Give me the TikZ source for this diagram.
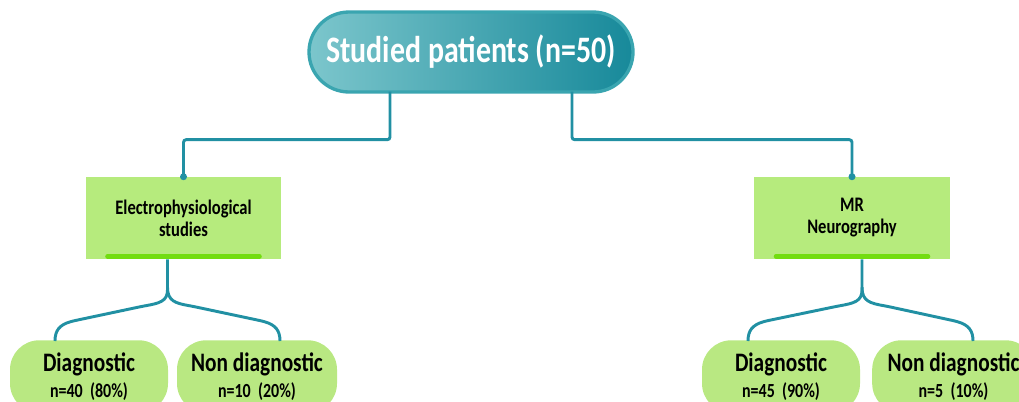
\documentclass[tikz,border=0pt]{standalone}
\usepackage{fontspec}
\setmainfont{Carlito}[FakeStretch=0.8]
\usetikzlibrary{calc}
\definecolor{teal1}{HTML}{2190A3}
\definecolor{tealL}{HTML}{7CC6CC}
\definecolor{tealD}{HTML}{17899A}
\definecolor{tealR}{HTML}{3AA5B0}
\definecolor{gbox}{HTML}{B6EB7D}
\definecolor{gbar}{HTML}{72DD10}
\definecolor{gpill}{HTML}{B9E882}
\tikzset{
  conn/.style={draw=teal1, line width=2.2pt, rounded corners=2pt},
  dotend/.style={fill=teal1},
  greenbox/.style={fill=gbox, minimum width=146.5pt, minimum height=61.5pt, inner sep=0pt, font=\bfseries\fontsize{15.5}{16.5}\selectfont, align=center},
  pill/.style={fill=gpill, rounded corners=22pt, anchor=north, align=center, inner ysep=9pt, font=\bfseries\fontsize{20}{20}\selectfont},
  bar/.style={draw=gbar, line width=3.5pt, line cap=round}
}
\newcommand{\smt}[1]{{\fontsize{15}{16}\selectfont #1}}
\begin{document}
\begin{tikzpicture}[x=0.75pt,y=-0.75pt]
\useasboundingbox (0,0) rectangle (1019,401);
\clip (0,0) rectangle (1019,401);
% title
\node[draw=tealR, line width=2.5pt, left color=tealL, right color=tealD, rounded corners=30pt,
      minimum width=243pt, minimum height=60pt, text=white,
      font=\bfseries\fontsize{28}{30}\selectfont] (title) at (471,52) {Studied patients (n=50)};
% boxes
\node[greenbox] (ebox) at (183.5,218) {Electrophysiological\\studies};
\node[greenbox] (mbox) at (852,218) {MR\\Neurography};
\draw[bar] ($(ebox.south west)+(22,-3)$) -- ($(ebox.south east)+(-22,-3)$);
\draw[bar] ($(mbox.south west)+(22,-3)$) -- ($(mbox.south east)+(-22,-3)$);
% pills
\node[pill, minimum width=118.5pt] (dl) at (89,340) {Diagnostic\\\smt{n=40\ \ (80\%)}};
\node[pill, minimum width=120pt] (ndl) at (257,340) {Non diagnostic\\\smt{n=10\ \ (20\%)}};
\node[pill, minimum width=118.5pt] (dr) at (781,340) {Diagnostic\\\smt{n=45\ \ (90\%)}};
\node[pill, minimum width=122pt] (ndr) at (953.5,340) {Non diagnostic\\\smt{n=5\ \ (10\%)}};
% top connectors
\draw[conn] ($(title.south)+(-81,-2)$) -- ++(0,48) -| (ebox.north);
\draw[conn] ($(title.south)+(101,-2)$) -- ++(0,48) -| (mbox.north);
\fill[dotend] (ebox.north) circle (3.5);
\fill[dotend] (mbox.north) circle (3.5);
% forks
\coordinate (s1) at ($(ebox.south)+(-16,0)$);
\coordinate (e1) at ($(dl.north)+(-34,1)$);
\coordinate (e2) at ($(ndl.north)+(23,1)$);
\draw[conn] (s1) -- ($(s1)+(0,28)$) .. controls ($(s1)+(0,42)$) and ($(s1)+(-8,44)$) .. ($(s1)+(-25,47)$) -- ($(e1)+(18,-20)$) .. controls ($(e1)+(4,-16)$) and ($(e1)+(0,-10)$) .. (e1);
\draw[conn] ($(s1)+(0,28)$) .. controls ($(s1)+(0,42)$) and ($(s1)+(8,44)$) .. ($(s1)+(25,47)$) -- ($(e2)+(-18,-20)$) .. controls ($(e2)+(-4,-16)$) and ($(e2)+(0,-10)$) .. (e2);
\coordinate (s2) at ($(mbox.south)+(10,0)$);
\coordinate (e3) at ($(dr.north)+(-33,1)$);
\coordinate (e4) at ($(ndr.north)+(19.5,1)$);
\draw[conn] (s2) -- ($(s2)+(0,28)$) .. controls ($(s2)+(0,42)$) and ($(s2)+(-8,44)$) .. ($(s2)+(-25,47)$) -- ($(e3)+(18,-20)$) .. controls ($(e3)+(4,-16)$) and ($(e3)+(0,-10)$) .. (e3);
\draw[conn] ($(s2)+(0,28)$) .. controls ($(s2)+(0,42)$) and ($(s2)+(8,44)$) .. ($(s2)+(25,47)$) -- ($(e4)+(-18,-20)$) .. controls ($(e4)+(-4,-16)$) and ($(e4)+(0,-10)$) .. (e4);
\end{tikzpicture}
\end{document}
